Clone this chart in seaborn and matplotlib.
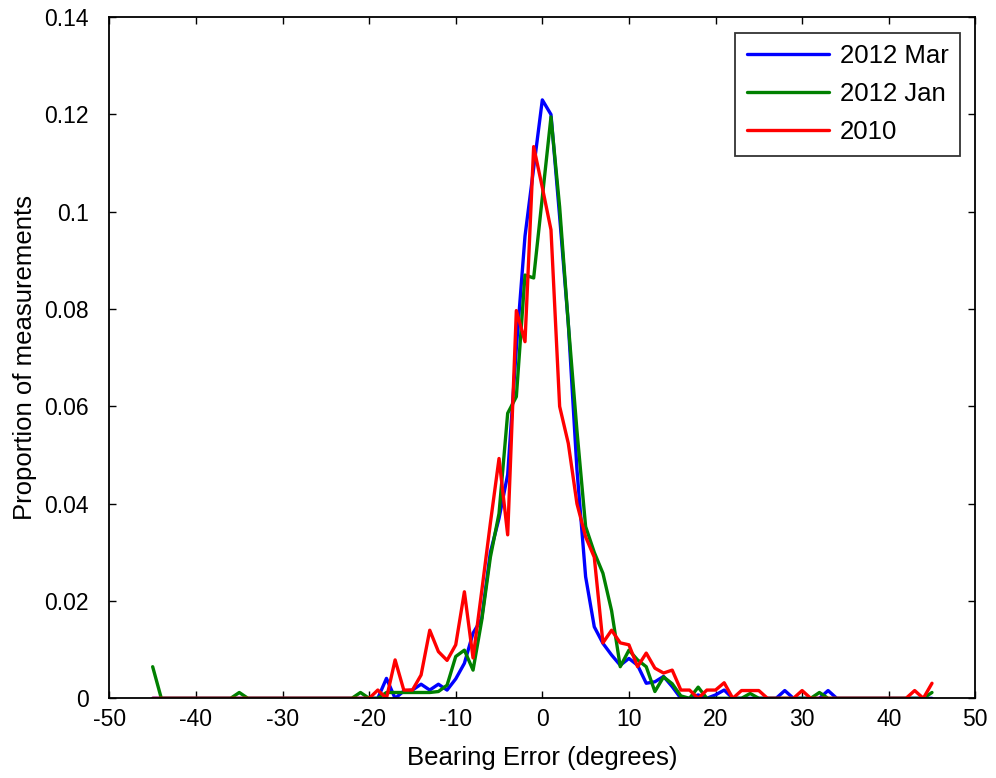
import numpy as np
import pandas as pd
import matplotlib
matplotlib.use("Agg")
import matplotlib.pyplot as plt
from matplotlib.ticker import FuncFormatter
import seaborn as sns

# bearing error bins, 1 degree wide
bins = list(range(-45, 46))

# non-zero readings per series (everything else is 0)
mar_2012 = {-18: 0.0041, -16: 0.0015, -15: 0.0017, -14: 0.0029, -13: 0.0017, -12: 0.0029,
            -11: 0.0017, -10: 0.0040, -9: 0.0072, -8: 0.0134, -7: 0.0164, -6: 0.030,
            -5: 0.037, -4: 0.046, -3: 0.072, -2: 0.095, -1: 0.109, 0: 0.123, 1: 0.120,
            2: 0.099, 3: 0.077, 4: 0.047, 5: 0.025, 6: 0.0147, 7: 0.0113, 8: 0.0089,
            9: 0.0068, 10: 0.0082, 11: 0.0068, 12: 0.0031, 13: 0.0034, 14: 0.0045,
            15: 0.0024, 18: 0.0007, 20: 0.0007, 21: 0.0017, 28: 0.0016, 33: 0.0016}

jan_2012 = {-45: 0.0065, -35: 0.0012, -21: 0.0012, -18: 0.0012, -17: 0.0012, -16: 0.0012,
            -15: 0.0012, -14: 0.0012, -13: 0.0012, -12: 0.0014, -11: 0.0027, -10: 0.0086,
            -9: 0.0099, -8: 0.0058, -7: 0.016, -6: 0.029, -5: 0.038, -4: 0.0586, -3: 0.062,
            -2: 0.087, -1: 0.0864, 0: 0.103, 1: 0.1195, 2: 0.101, 3: 0.077, 4: 0.055,
            5: 0.0353, 6: 0.030, 7: 0.0257, 8: 0.018, 9: 0.0065, 10: 0.0099, 11: 0.0079,
            12: 0.0065, 13: 0.0014, 14: 0.0044, 15: 0.003, 16: 0.0005, 18: 0.0023,
            24: 0.001, 32: 0.0012, 45: 0.0012}

y_2010 = {-19: 0.0017, -17: 0.0079, -16: 0.0017, -15: 0.0017, -14: 0.0048, -13: 0.014,
          -12: 0.0096, -11: 0.0078, -10: 0.011, -9: 0.0219, -8: 0.0083, -7: 0.022,
          -6: 0.036, -5: 0.0493, -4: 0.0336, -3: 0.0797, -2: 0.0733, -1: 0.1134, 0: 0.105,
          1: 0.0963, 2: 0.060, 3: 0.0524, 4: 0.040, 5: 0.0332, 6: 0.029, 7: 0.0114,
          8: 0.014, 9: 0.0114, 10: 0.011, 11: 0.0065, 12: 0.0093, 13: 0.0062, 14: 0.0052,
          15: 0.0058, 16: 0.0017, 17: 0.0017, 19: 0.0017, 20: 0.0017, 21: 0.0032,
          23: 0.0016, 24: 0.0016, 25: 0.0016, 30: 0.0016, 43: 0.0016, 45: 0.0031}

labels = ["2012 Mar", "2012 Jan", "2010"]
colors = ["#0000ff", "#008000", "#ff0000"]

rows = []
for lab, d in zip(labels, [mar_2012, jan_2012, y_2010]):
    for b in bins:
        rows.append({"err": b, "prop": d.get(b, 0.0), "series": lab})
df = pd.DataFrame(rows)

sns.set_style("ticks")
plt.rcParams["font.family"] = ["Liberation Sans", "DejaVu Sans"]
plt.rcParams["axes.unicode_minus"] = False
plt.rcParams["text.color"] = "black"
plt.rcParams["axes.labelcolor"] = "black"

tick_fs = 16.5
label_fs = 18.5

fig = plt.figure(figsize=(9.96, 7.78), dpi=100)
ax = fig.add_axes([0.1098, 0.1024, 0.8694, 0.8755])

sns.lineplot(data=df, x="err", y="prop", hue="series", hue_order=labels,
             palette=colors, linewidth=2.4, ax=ax)

ax.set_xlim(-50, 50)
ax.set_ylim(0, 0.14)
ax.set_xticks(np.arange(-50, 51, 10))
ax.set_yticks(np.arange(0, 0.141, 0.02))
ax.yaxis.set_major_formatter(FuncFormatter(lambda v, p: "%g" % round(v, 4)))
ax.tick_params(direction="in", top=True, right=True, length=5, width=1,
               labelsize=tick_fs, colors="black")
ax.tick_params(axis="y", pad=15)
ax.tick_params(axis="x", pad=7)
for s in ax.spines.values():
    s.set_visible(True)
    s.set_color("black")
    s.set_linewidth(1.3)

ax.set_xlabel("Bearing Error (degrees)", fontsize=label_fs, labelpad=11)
ax.set_ylabel("Proportion of measurements", fontsize=label_fs, labelpad=5)

leg = ax.legend(loc="upper right", fontsize=label_fs, handlelength=3.2, frameon=True,
                fancybox=False, edgecolor="black", borderaxespad=0.6,
                labelspacing=0.55, borderpad=0.45, handletextpad=0.4)
leg.get_frame().set_linewidth(1.3)

fig.savefig("out.png", dpi=100)
